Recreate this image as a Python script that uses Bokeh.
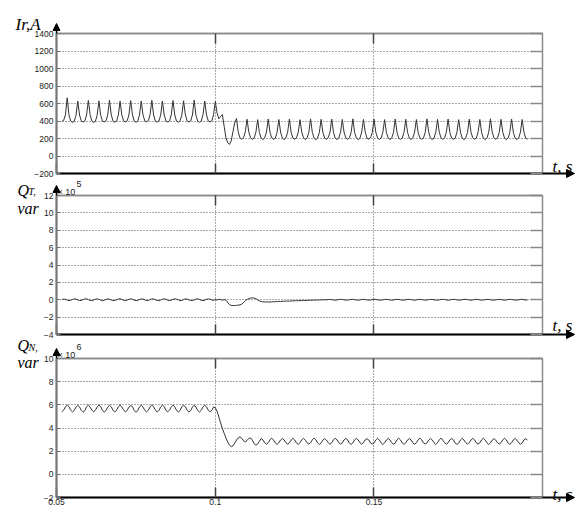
import numpy as np
from bokeh.plotting import figure
from bokeh.layouts import column
from bokeh.models import Range1d, LinearAxis, FixedTicker, Label, Arrow, NormalHead, GridBox
from bokeh.embed import file_html
from bokeh.resources import INLINE

# ---------------- data ----------------
T_START = 0.0517          # s, first sample
T_STEP = 1.0 / 1800       # s, sample spacing

# rectifier current Ir, A
ir_A = [
    395, 408, 470,
    665, 470, 400, 385, 398, 465,
    628, 468, 402, 388, 400, 470,
    635, 472, 398, 384, 397, 466,
    630, 465, 401, 390, 402, 471,
    638, 470, 399, 386, 399, 468,
    626, 466, 403, 389, 401, 469,
    633, 471, 400, 385, 398, 467,
    629, 467, 402, 391, 403, 472,
    636, 469, 398, 387, 400, 466,
    627, 470, 401, 388, 399, 470,
    634, 468, 400, 386, 402, 468,
    631, 472, 403, 390, 400, 467,
    637, 466, 399, 385, 398, 471,
    628, 469, 401, 389, 401, 470,
    622,
    490, 425, 452, 472, 340, 212, 152, 132, 172, 278, 378,
    428, 272, 206, 192, 208, 276,
    420, 272, 206, 190, 205, 270,
    416, 268, 204, 188, 207, 274,
    423, 271, 207, 191, 204, 269,
    418, 274, 203, 187, 206, 272,
    421, 269, 205, 192, 208, 271,
    415, 273, 208, 189, 203, 268,
    424, 270, 204, 186, 205, 273,
    419, 267, 206, 191, 207, 270,
    422, 272, 203, 188, 204, 271,
    417, 270, 207, 190, 206, 269,
    425, 268, 205, 187, 203, 274,
    418, 273, 204, 192, 207, 270,
    421, 271, 206, 189, 205, 272,
    416, 269, 208, 186, 204, 268,
    423, 272, 203, 190, 206, 271,
    420, 270, 205, 188, 207, 273,
    417, 267, 207, 191, 203, 270,
    424, 273, 204, 187, 205, 269,
    419, 271, 206, 189, 208, 272,
    422, 268, 203, 192, 204, 271,
    416, 272, 205, 186, 206, 270,
    421, 270, 207, 190, 205, 273,
    418, 269, 204, 188, 203, 268,
    425, 273, 206, 191, 207, 271,
    419, 271, 205, 187, 204, 270,
    422, 268, 203, 189, 206, 272,
    418, 270, 205, 192,
]

# reactive power Q_T, x 10^5 var
qt_e5 = [
    0.02, 0.08, 0.05, -0.04, -0.10, -0.06, 0.03, 0.10, 0.07, -0.02,
    -0.09, -0.08, 0.01, 0.09, 0.11, 0.02, -0.07, -0.10, -0.03, 0.06,
    0.10, 0.04, -0.05, -0.11, -0.06, 0.04, 0.09, 0.06, -0.03, -0.08,
    -0.09, 0.00, 0.08, 0.12, 0.03, -0.06, -0.10, -0.04, 0.05, 0.10,
    0.05, -0.04, -0.10, -0.07, 0.02, 0.09, 0.08, -0.01, -0.09, -0.09,
    0.01, 0.10, 0.09, 0.00, -0.08, -0.11, -0.03, 0.06, 0.11, 0.05,
    -0.05, -0.10, -0.05, 0.04, 0.10, 0.07, -0.02, -0.09, -0.08, 0.02,
    0.10, 0.08, -0.01, -0.08, -0.10, -0.02, 0.07, 0.11, 0.04, -0.06,
    -0.10, -0.04, 0.05, 0.09, 0.06, -0.03, -0.08,
    0.04, -0.04, 0.06, 0.02, -0.06, 0.03, -0.05, -0.30, -0.55, -0.65,
    -0.67, -0.66, -0.64, -0.62, -0.58, -0.50, -0.32, -0.12, 0.02, 0.12,
    0.19, 0.22, 0.20, 0.12, -0.02, -0.14, -0.20, -0.23, -0.25, -0.26,
    -0.25, -0.27, -0.24, -0.22, -0.23, -0.20, -0.19, -0.20, -0.17, -0.18,
    -0.16, -0.15, -0.16, -0.13, -0.14, -0.12, -0.11, -0.12, -0.09, -0.10,
    -0.08, -0.09, -0.06, -0.07, -0.05, -0.06, -0.03, -0.04, -0.02, -0.03,
    0.00, -0.02, 0.01, -0.01,
    0.02, 0.04, 0.01, -0.03, -0.05, -0.02, 0.02, 0.05, 0.03, -0.01,
    -0.04, -0.04, 0.00, 0.04, 0.05, 0.01, -0.03, -0.05, -0.02, 0.03,
    0.05, 0.02, -0.02, -0.05, -0.03, 0.01, 0.04, 0.04, 0.00, -0.04,
    -0.05, -0.01, 0.03, 0.05, 0.02, -0.02, -0.05, -0.03, 0.02, 0.05,
    0.03, -0.01, -0.04, -0.04, 0.00, 0.04, 0.05, 0.01, -0.03, -0.05,
    -0.02, 0.03, 0.05, 0.02, -0.02, -0.05, -0.03, 0.01, 0.04, 0.04,
    0.00, -0.04, -0.05, -0.01, 0.03, 0.05, 0.02, -0.02, -0.05, -0.03,
    0.02, 0.05, 0.03, -0.01, -0.04, -0.04, 0.00, 0.04, 0.05, 0.01,
    -0.03, -0.05, -0.02, 0.03, 0.05, 0.02, -0.02, -0.05, -0.03, 0.01,
    0.04, 0.04, 0.00, -0.04, -0.05, -0.01, 0.03, 0.05, 0.02, -0.02,
    -0.05, -0.03, 0.02, 0.05, 0.03, -0.01, -0.04, -0.04, 0.00, 0.04,
    0.05, 0.01, -0.03, -0.04,
]

# reactive power Q_N, x 10^6 var
qn_e6 = [
    5.40, 5.55, 5.82,
    5.98, 5.84, 5.54, 5.39, 5.52, 5.80,
    5.95, 5.82, 5.52, 5.36, 5.50, 5.83,
    5.97, 5.81, 5.55, 5.40, 5.53, 5.82,
    5.99, 5.85, 5.53, 5.37, 5.51, 5.81,
    5.96, 5.83, 5.52, 5.38, 5.54, 5.84,
    5.98, 5.82, 5.54, 5.41, 5.52, 5.80,
    5.95, 5.84, 5.51, 5.36, 5.50, 5.82,
    5.97, 5.81, 5.53, 5.39, 5.53, 5.83,
    5.99, 5.83, 5.55, 5.38, 5.51, 5.81,
    5.96, 5.85, 5.52, 5.40, 5.54, 5.82,
    5.98, 5.82, 5.54, 5.37, 5.52, 5.84,
    5.95, 5.84, 5.53, 5.39, 5.50, 5.80,
    5.97, 5.81, 5.51, 5.38, 5.53, 5.83,
    5.96, 5.83, 5.54, 5.40, 5.52, 5.81,
    5.75, 5.45, 4.95, 4.45, 3.95, 3.55, 3.15, 2.80, 2.55, 2.38,
    2.45, 2.70, 2.95, 3.15, 3.24, 3.10, 2.90, 2.80, 2.92, 3.10,
    3.15, 2.95, 2.65, 2.52, 2.62, 2.85,
    3.10, 2.97, 2.72, 2.60, 2.73, 2.98,
    3.12, 2.96, 2.71, 2.58, 2.72, 2.97,
    3.09, 2.98, 2.73, 2.61, 2.71, 2.96,
    3.11, 2.97, 2.70, 2.59, 2.73, 2.98,
    3.10, 2.95, 2.72, 2.62, 2.72, 2.97,
    3.13, 2.98, 2.71, 2.58, 2.70, 2.96,
    3.09, 2.96, 2.73, 2.60, 2.73, 2.99,
    3.11, 2.97, 2.72, 2.61, 2.71, 2.97,
    3.10, 2.98, 2.70, 2.59, 2.72, 2.96,
    3.12, 2.96, 2.73, 2.60, 2.73, 2.98,
    3.08, 2.97, 2.71, 2.62, 2.71, 2.97,
    3.11, 2.95, 2.72, 2.58, 2.72, 2.96,
    3.10, 2.98, 2.73, 2.61, 2.70, 2.98,
    3.12, 2.97, 2.70, 2.59, 2.73, 2.97,
    3.09, 2.96, 2.72, 2.60, 2.72, 2.99,
    3.11, 2.98, 2.71, 2.62, 2.71, 2.96,
    3.10, 2.97, 2.73, 2.58, 2.73, 2.97,
    3.13, 2.95, 2.72, 2.61, 2.72, 2.98,
    3.09, 2.98, 2.70, 2.59, 2.70, 2.96,
    3.11, 2.96, 2.73, 2.60, 2.73, 2.97,
    3.10, 2.97, 2.71, 2.62, 2.72, 2.98,
    3.12, 2.98, 2.72, 2.58, 2.71, 2.96,
    3.08, 2.96, 2.73, 2.61, 2.73, 2.97,
    3.11, 2.97, 2.70, 2.59, 2.72, 2.99,
    3.10, 2.95, 2.72, 2.60, 2.71, 2.97,
    3.08, 2.96,
]

x_ticks = [0.05, 0.1, 0.15]
x_tick_labels = ["0.05", "0.1", "0.15"]
ir_ticks = [-200, 0, 200, 400, 600, 800, 1000, 1200, 1400]
qt_ticks = [-4, -2, 0, 2, 4, 6, 8, 10, 12]
qn_ticks = [-2, 0, 2, 4, 6, 8, 10]

# ---------------- layout / style ----------------
X_START, X_END = 0.05, 0.2031
LEFT, FRAME_W, RIGHT = 56, 486, 39
WIDTH = LEFT + FRAME_W + RIGHT          # 581
# (top border, frame height, bottom border) of each panel
P1 = (33, 140, 11)
P2 = (11, 139, 12)
P3 = (12, 139, 15)
TOTAL_H = sum(P1) + sum(P2) + sum(P3)   # 512

SERIF = "Liberation Serif"
SANS = "Liberation Sans"
GRAY = "#8a8a8a"
LINE = "#333333"


def times(values):
    return T_START + T_STEP * np.arange(len(values))


def hide_labels(ax, ticks):
    ax.major_label_overrides = {t: "" for t in ticks}
    ax.major_label_text_font_size = "0px"
    ax.major_label_standoff = 0


def panel(values, y_ticks, dims, show_x_labels):
    top, frame_h, bottom = dims
    p = figure(width=WIDTH, height=top + frame_h + bottom, output_backend="svg",
               toolbar_location=None, tools="",
               x_range=Range1d(X_START, X_END), y_range=Range1d(y_ticks[0], y_ticks[-1]),
               min_border_left=LEFT, min_border_right=RIGHT,
               min_border_top=top, min_border_bottom=bottom,
               background_fill_color="white", border_fill_color="white",
               outline_line_color=GRAY, outline_line_width=1.5)

    xa = p.below[0]
    xa.ticker = FixedTicker(ticks=x_ticks)
    xa.axis_line_color = "black"
    xa.axis_line_width = 2
    xa.major_tick_in = 10
    xa.major_tick_out = 0
    xa.major_tick_line_color = "#444444"
    xa.major_tick_line_width = 1.5
    xa.minor_tick_line_color = None
    if show_x_labels:
        xa.major_label_overrides = {t: s for t, s in zip(x_ticks, x_tick_labels)}
        xa.major_label_text_font = SANS
        xa.major_label_text_font_size = "8.5px"
        xa.major_label_text_color = "#222222"
        xa.major_label_standoff = 1
    else:
        hide_labels(xa, x_ticks)

    ya = p.left[0]
    ya.ticker = FixedTicker(ticks=y_ticks)
    ya.axis_line_color = "#777777"
    ya.axis_line_width = 2
    ya.major_tick_in = 4
    ya.major_tick_out = 0
    ya.major_tick_line_color = "#777777"
    ya.minor_tick_line_color = None
    ya.major_label_text_font = SANS
    ya.major_label_text_font_size = "8.5px"
    ya.major_label_text_color = "#222222"
    ya.major_label_standoff = 3

    top_ax = LinearAxis(ticker=FixedTicker(ticks=x_ticks[1:]))
    top_ax.axis_line_color = GRAY
    top_ax.axis_line_width = 1.5
    top_ax.major_tick_in = 10
    top_ax.major_tick_out = 0
    top_ax.major_tick_line_color = "#444444"
    top_ax.major_tick_line_width = 1.5
    top_ax.minor_tick_line_color = None
    hide_labels(top_ax, x_ticks[1:])
    p.add_layout(top_ax, "above")

    right_ax = LinearAxis(ticker=FixedTicker(ticks=y_ticks))
    right_ax.axis_line_color = GRAY
    right_ax.axis_line_width = 1
    right_ax.major_tick_in = 12
    right_ax.major_tick_out = 0
    right_ax.major_tick_line_color = GRAY
    right_ax.major_tick_line_width = 1.5
    right_ax.minor_tick_line_color = None
    hide_labels(right_ax, y_ticks)
    p.add_layout(right_ax, "right")

    p.xgrid.ticker = FixedTicker(ticks=x_ticks)
    p.ygrid.ticker = FixedTicker(ticks=y_ticks)
    for g in (p.xgrid, p.ygrid):
        g.grid_line_color = "#555555"
        g.grid_line_dash = "1 2"
        g.grid_line_width = 1

    p.line(times(values), values, line_color=LINE, line_width=1)
    return p


p1 = panel(ir_A, ir_ticks, P1, False)
p2 = panel(qt_e5, qt_ticks, P2, False)
p3 = panel(qn_e6, qn_ticks, P3, True)
main = column(p1, p2, p3, spacing=0)

# ---------------- overlay for the texts and axis arrows outside the frames ----------------
ov = figure(width=WIDTH, height=TOTAL_H, output_backend="svg", toolbar_location=None, tools="",
            x_range=Range1d(0, WIDTH), y_range=Range1d(TOTAL_H, 0),
            x_axis_type=None, y_axis_type=None, min_border=0,
            background_fill_color=None, border_fill_color=None, outline_line_color=None)

F_LEFT = LEFT
F_RIGHT = LEFT + FRAME_W
F1_TOP = P1[0]
F1_BOT = F1_TOP + P1[1]
F2_TOP = sum(P1) + P2[0]
F2_BOT = F2_TOP + P2[1]
F3_TOP = sum(P1) + sum(P2) + P3[0]
F3_BOT = F3_TOP + P3[1]


def txt(x, y, text, size="16px", font=SERIF, style="italic", color="black"):
    ov.add_layout(Label(x=x, y=y, text=text, text_font=font, text_font_style=style,
                        text_font_size=size, text_color=color,
                        text_baseline="alphabetic", text_align="left"))


# y labels
txt(F_LEFT - 41, F1_TOP - 9.5, "Ir,A", size="17px")
txt(F_LEFT - 39, F2_TOP - 5.5, "Q")
txt(F_LEFT - 28, F2_TOP - 4, "T,", size="10px")
txt(F_LEFT - 39, F2_TOP + 12.5, "var")
txt(F_LEFT - 39, F3_TOP - 13, "Q")
txt(F_LEFT - 28, F3_TOP - 11.5, "N,", size="10px")
txt(F_LEFT - 39, F3_TOP + 3.7, "var")

# multipliers
txt(F_LEFT + 1, F2_TOP - 3.5, "\u00d7 10", size="9px", font=SANS, style="normal", color="#222222")
txt(F_LEFT + 20, F2_TOP - 12, "5", size="9px", font=SANS, style="normal", color="#222222")
txt(F_LEFT + 1, F3_TOP - 4, "\u00d7 10", size="9px", font=SANS, style="normal", color="#222222")
txt(F_LEFT + 20, F3_TOP - 11.3, "6", size="9px", font=SANS, style="normal", color="#222222")

# x labels
txt(F_RIGHT + 10, F1_BOT - 7, "t, s", size="17px")
txt(F_RIGHT + 10, F2_BOT - 9, "t, s", size="17px")
txt(F_RIGHT + 10, F3_BOT - 3, "t, s", size="17px")

# axis arrows
for top, bot in ((F1_TOP, F1_BOT), (F2_TOP, F2_BOT), (F3_TOP, F3_BOT)):
    ov.add_layout(Arrow(x_start=F_LEFT, y_start=top, x_end=F_LEFT, y_end=top - 10,
                        line_color="black", line_width=1.5,
                        end=NormalHead(size=7, fill_color="black", line_color="black")))
    ov.add_layout(Arrow(x_start=F_RIGHT, y_start=bot, x_end=F_RIGHT + 32, y_end=bot,
                        line_color="black", line_width=2,
                        end=NormalHead(size=8, fill_color="black", line_color="black")))

page = GridBox(children=[(main, 0, 0), (ov, 0, 0)], spacing=0)
open("out.html", "w").write(file_html(page, INLINE))
